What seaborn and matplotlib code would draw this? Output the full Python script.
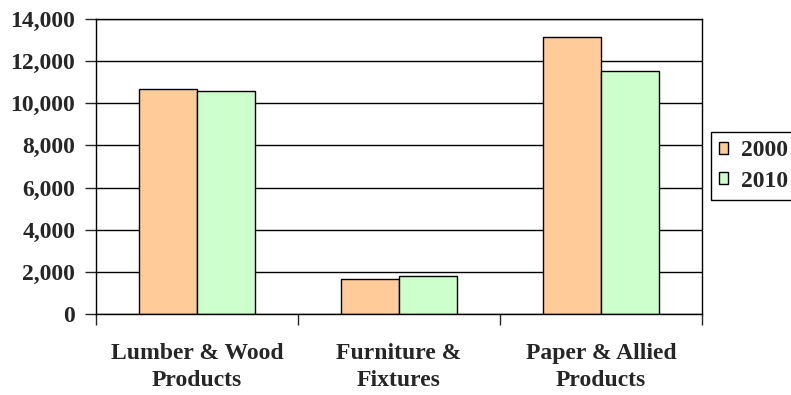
import matplotlib
matplotlib.use("Agg")
import matplotlib.pyplot as plt
import pandas as pd
import seaborn as sns
from matplotlib.ticker import FuncFormatter, FixedLocator

# values
categories = ["Lumber & Wood\nProducts", "Furniture &\nFixtures", "Paper & Allied\nProducts"]
years = ["2000", "2010"]
values_2000 = [10670, 1650, 13140]
values_2010 = [10560, 1780, 11530]
colors = ["#FFCC99", "#CCFFCC"]

df = pd.DataFrame({
    "category": categories * 2,
    "year": [years[0]] * 3 + [years[1]] * 3,
    "value": values_2000 + values_2010,
})

sns.set_style("white")
plt.rcParams["font.family"] = ["Liberation Serif", "DejaVu Serif"]
plt.rcParams["font.weight"] = "bold"

FS = 17

fig = plt.figure(figsize=(7.91, 3.95), dpi=100)
ax = fig.add_axes([96 / 791, 1 - 314 / 395, (702 - 96) / 791, (314 - 19) / 395])

sns.barplot(
    data=df, x="category", y="value", hue="year",
    palette=colors, width=0.575, edgecolor="black", linewidth=1.0,
    saturation=1, ax=ax, legend=True,
)

ax.set_xlim(-0.5, 2.5)
ax.set_ylim(0, 14000)
ax.set_yticks(range(0, 14001, 2000))
ax.yaxis.set_major_formatter(FuncFormatter(lambda v, p: f"{int(v):,}"))
ax.grid(axis="y", color="black", linewidth=1.0)
ax.set_axisbelow(True)
for s in ax.spines.values():
    s.set_color("black")
    s.set_linewidth(1.0)

ax.set_xlabel("")
ax.set_ylabel("")
ax.tick_params(axis="y", which="major", length=8, width=1, direction="out",
               left=True, pad=7, labelsize=FS)
ax.tick_params(axis="x", which="major", length=0, pad=21, labelsize=FS)
ax.xaxis.set_minor_locator(FixedLocator([-0.5, 0.5, 1.5, 2.5]))
ax.tick_params(axis="x", which="minor", length=8, width=1, direction="out", bottom=True)
for lab in ax.get_xticklabels() + ax.get_yticklabels():
    lab.set_fontweight("bold")
for lab in ax.get_xticklabels():
    lab.set_linespacing(1.35)

handles, labels = ax.get_legend_handles_labels()
ax.legend(handles, labels, loc="upper left", bbox_to_anchor=(711 / 791, 1 - 132 / 395),
          bbox_transform=fig.transFigure, frameon=True, fancybox=False,
          edgecolor="black", framealpha=1, prop={"size": FS, "weight": "bold"},
          handlelength=0.38, handleheight=0.38, handletextpad=0.55, borderpad=0.35,
          labelspacing=0.4, borderaxespad=0)
ax.get_legend().get_frame().set_linewidth(1.0)

fig.savefig("out.png", dpi=100)
